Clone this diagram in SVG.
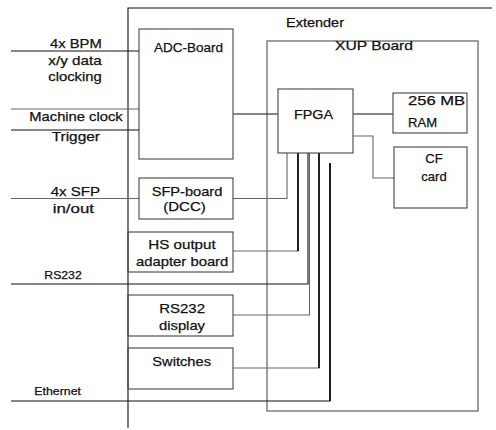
<svg xmlns="http://www.w3.org/2000/svg" width="496" height="430" viewBox="0 0 496 430">
<style>
  text { font-family: "Liberation Sans", Arial, sans-serif; font-size: 13px; fill: #111; stroke: #111; stroke-width: 0.25; }
  .c { text-anchor: middle; }
  .box { fill: none; stroke: #444; stroke-width: 1.1; }
  .xup { fill: none; stroke: #777; stroke-width: 1.4; }
  .ln { fill: none; stroke: #111; stroke-width: 1.1; }
  .gl { fill: none; stroke: #666; stroke-width: 1.1; }
  .bus { fill: none; stroke: #000; stroke-width: 1.6; }
  .sm { font-size: 10.5px; }
</style>
<rect width="496" height="430" fill="#fff"/>
<g id="extender">
  <path class="ln" d="M128,428 V8 H492"/>
  <text x="286" y="27" textLength="58" lengthAdjust="spacingAndGlyphs">Extender</text>
</g>
<g id="xup">
  <rect class="xup" x="267" y="41" width="211" height="370"/>
  <text x="335" y="50" textLength="78" lengthAdjust="spacingAndGlyphs">XUP Board</text>
</g>
<g id="connectors">
  <path class="ln" d="M11,51 H139"/>
  <path class="gl" d="M11,109 H139"/>
  <path class="ln" d="M11,130 H139"/>
  <path class="ln" d="M233,114 H278"/>
  <path class="ln" d="M353,114 H393"/>
  <path class="gl" d="M353,136 H373 V178 H394"/>
  <path class="gl" d="M11,198.5 H139"/>
  <path class="gl" d="M233,198.5 H287 V153"/>
  <path class="gl" d="M233,251 H298 V153"/>
  <path class="bus" d="M298,251 V153"/>
  <path class="ln" d="M11,284 H308 V153"/>
  <path class="gl" d="M233,315 H309.5 V153"/>
  <path class="gl" d="M233,368 H319 V153"/>
  <path class="bus" d="M319,368 V153"/>
  <path class="ln" d="M11,401 H330 V163"/>
  <path class="bus" d="M330,401 V163"/>
</g>
<g id="adc">
  <rect class="box" x="139" y="29" width="94" height="130"/>
  <text x="154" y="51.5" textLength="69" lengthAdjust="spacingAndGlyphs">ADC-Board</text>
</g>
<g id="fpga">
  <rect class="box" x="278" y="89" width="75" height="64" fill="#fff"/>
  <text x="294" y="119" textLength="39" lengthAdjust="spacingAndGlyphs">FPGA</text>
</g>
<g id="ram">
  <rect class="box" x="393" y="93" width="74" height="40"/>
  <text x="408" y="105" textLength="57" lengthAdjust="spacingAndGlyphs">256 MB</text>
  <text x="408" y="127" textLength="29" lengthAdjust="spacingAndGlyphs">RAM</text>
</g>
<g id="cf">
  <rect class="box" x="394" y="147" width="73" height="61"/>
  <text class="c" x="434" y="163">CF</text>
  <text class="c" x="434" y="181">card</text>
</g>
<g id="sfp">
  <rect class="box" x="139" y="178" width="94" height="41"/>
  <text x="151.7" y="196" textLength="70.6" lengthAdjust="spacingAndGlyphs">SFP-board</text>
  <text x="163.3" y="211" textLength="42.4" lengthAdjust="spacingAndGlyphs">(DCC)</text>
</g>
<g id="hs">
  <rect class="box" x="128" y="232" width="105" height="40"/>
  <text x="148.3" y="249" textLength="67.4" lengthAdjust="spacingAndGlyphs">HS output</text>
  <text x="136" y="266" textLength="92.3" lengthAdjust="spacingAndGlyphs">adapter board</text>
</g>
<g id="rs232display">
  <rect class="box" x="128" y="295" width="105" height="41"/>
  <text x="159.3" y="313" textLength="45.7" lengthAdjust="spacingAndGlyphs">RS232</text>
  <text x="159" y="330" textLength="46" lengthAdjust="spacingAndGlyphs">display</text>
</g>
<g id="switches">
  <rect class="box" x="128" y="348" width="105" height="41"/>
  <text x="152.3" y="366" textLength="58.7" lengthAdjust="spacingAndGlyphs">Switches</text>
</g>
<g id="labels">
  <text x="50" y="48" textLength="51.7" lengthAdjust="spacingAndGlyphs">4x BPM</text>
  <text x="48.3" y="65" textLength="53.4" lengthAdjust="spacingAndGlyphs">x/y data</text>
  <text x="48.3" y="81" textLength="53.4" lengthAdjust="spacingAndGlyphs">clocking</text>
  <text x="29.3" y="121" textLength="93.4" lengthAdjust="spacingAndGlyphs">Machine clock</text>
  <text x="51.7" y="141" textLength="48.3" lengthAdjust="spacingAndGlyphs">Trigger</text>
  <text x="50.7" y="196" textLength="49.3" lengthAdjust="spacingAndGlyphs">4x SFP</text>
  <text x="52.7" y="213" textLength="41.3" lengthAdjust="spacingAndGlyphs">in/out</text>
  <text class="sm" x="44.3" y="279" textLength="37.4" lengthAdjust="spacingAndGlyphs">RS232</text>
  <text class="sm" x="34.3" y="395" textLength="46.7" lengthAdjust="spacingAndGlyphs">Ethernet</text>
</g>
</svg>
